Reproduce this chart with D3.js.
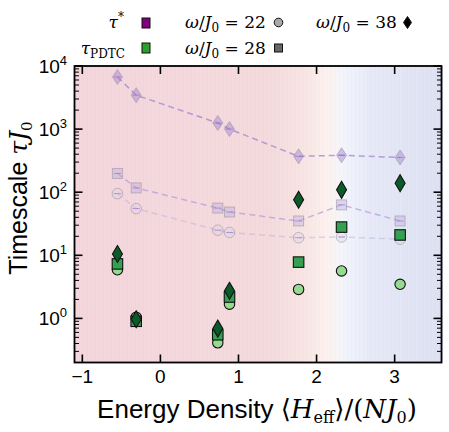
<!DOCTYPE html>
<html>
<head>
<meta charset="utf-8">
<script src="https://cdn.jsdelivr.net/npm/d3@7"></script>
<style>
  body { margin: 0; background: #fff; }
  svg text { font-family: "Liberation Sans", Arial, sans-serif; }
  .math { font-family: "DejaVu Serif", "Liberation Serif", serif; font-style: italic; }
</style>
</head>
<body>
<div id="chart"></div>
<script>
// Energy densities of the seven states
const energy = [-0.55, -0.31, 0.735, 0.885, 1.77, 2.32, 3.07];

// tau* (faded), one series per drive frequency
const tauStar22 = [95, 55, 25, 23, 19, 19.5, 18];
const tauStar28 = [198, 117, 56, 48.5, 35, 63, 35];
const tauStar38 = [6700, 3450, 1250, 1000, 370, 385, 355];

// tau_PDTC, one series per drive frequency
const tauPdtc22 = [5.9, 1.04, 0.41, 1.68, 2.88, 5.65, 3.47];
const tauPdtc28 = [7.3, 0.90, 0.55, 2.18, 7.8, 28, 21];
const tauPdtc38 = [10.5, 0.97, 0.69, 2.74, 76, 109, 139];

const xTicks = [-1, 0, 1, 2, 3];
const yTicks = [1, 10, 100, 1000, 10000];

const W = 449, H = 432;
const margin = {left: 74.5, right: 7.5, top: 66, bottom: 69.5};

const svg = d3.select("#chart").append("svg")
    .attr("width", W)
    .attr("height", H);

const x = d3.scaleLinear().domain([-1.1, 3.6]).range([margin.left, W - margin.right]);
const y = d3.scaleLog().domain([0.2, 1e4]).range([H - margin.bottom, margin.top]);

// background colour map along the energy axis
const bgColor = d3.scaleLinear()
    .domain([-1.1, 1.4, 1.85, 2.15, 2.35, 2.7, 3.6])
    .range(["#f5d4db", "#f6d8dc", "#f9e4e2", "#fdf2ee", "#f3f5fd", "#e5e8f8", "#dde0f3"]);

const bg = svg.append("g");
const step = 2;
for (let px = x(-1.1); px < x(3.6); px += step) {
    let c = d3.color(bgColor(x.invert(px + step / 2)));
    if (Math.round(px / step) % 2) c = c.darker(0.03);
    bg.append("rect")
        .attr("x", px)
        .attr("y", margin.top)
        .attr("width", step + 0.3)
        .attr("height", H - margin.bottom - margin.top)
        .attr("fill", c.formatHex());
}

// marker shapes
function diamond(g, cx, cy, w, h) {
    return g.append("path")
        .attr("d", "M" + cx + "," + (cy - h / 2) + "L" + (cx + w / 2) + "," + cy +
              "L" + cx + "," + (cy + h / 2) + "L" + (cx - w / 2) + "," + cy + "Z");
}
function square(g, cx, cy, s) {
    return g.append("rect").attr("x", cx - s / 2).attr("y", cy - s / 2).attr("width", s).attr("height", s);
}
function circle(g, cx, cy, r) {
    return g.append("circle").attr("cx", cx).attr("cy", cy).attr("r", r);
}

// faded tau* series
const faded = svg.append("g");
const fadedSeries = [
    {vals: tauStar22, shape: "c", fill: "#d9d2e6", fo: 0.35, line: "#c0b0dc", lo: 0.5},
    {vals: tauStar28, shape: "s", fill: "#b9a9d9", fo: 0.4, line: "#a88ed4", lo: 0.6},
    {vals: tauStar38, shape: "d", fill: "#9e7fd0", fo: 0.45, line: "#9b7ccf", lo: 0.7}
];
const lineGen = d3.line().x((d, i) => x(energy[i])).y(d => y(d));
fadedSeries.forEach(s => {
    faded.append("path")
        .attr("d", lineGen(s.vals))
        .attr("fill", "none")
        .attr("stroke", s.line)
        .attr("stroke-opacity", s.lo)
        .attr("stroke-width", 1.5)
        .attr("stroke-dasharray", "6,4");
});
fadedSeries.forEach(s => {
    s.vals.forEach((v, i) => {
        let cx = x(energy[i]), cy = y(v), m;
        if (s.shape === "c") m = circle(faded, cx, cy, 5.3);
        else if (s.shape === "s") m = square(faded, cx, cy, 10);
        else m = diamond(faded, cx, cy, 10, 15);
        m.attr("fill", s.fill).attr("fill-opacity", s.fo)
            .attr("stroke", "#8f8a9c").attr("stroke-opacity", 0.5).attr("stroke-width", 1);
        faded.append("line")
            .attr("x1", cx - 3.5).attr("x2", cx + 3.5)
            .attr("y1", cy).attr("y2", cy)
            .attr("stroke", "#8a6cc8").attr("stroke-opacity", 0.6).attr("stroke-width", 1);
    });
});

// tau_PDTC series
const pd = svg.append("g").attr("stroke", "#111").attr("stroke-width", 1.1);
tauPdtc22.forEach((v, i) => circle(pd, x(energy[i]), y(v), 5.2).attr("fill", "#98d991"));
tauPdtc28.forEach((v, i) => square(pd, x(energy[i]), y(v), 10.5).attr("fill", "#34a150"));
tauPdtc38.forEach((v, i) => diamond(pd, x(energy[i]), y(v), 10, 17).attr("fill", "#0b5a2a"));

// ticks (inward)
const axes = svg.append("g").attr("stroke", "#000");
xTicks.forEach(t => {
    axes.append("line").attr("x1", x(t)).attr("x2", x(t))
        .attr("y1", H - margin.bottom).attr("y2", H - margin.bottom - 8).attr("stroke-width", 1.6);
    axes.append("line").attr("x1", x(t)).attr("x2", x(t))
        .attr("y1", margin.top).attr("y2", margin.top + 8).attr("stroke-width", 1.6);
});
const minor = [];
for (let e = -1; e < 4; e++) {
    for (let k = 2; k < 10; k++) {
        let v = k * Math.pow(10, e);
        if (v >= 0.2 && v <= 1e4) minor.push(v);
    }
}
[margin.left, W - margin.right].forEach((xx, side) => {
    const dir = side === 0 ? 1 : -1;
    yTicks.forEach(t => {
        axes.append("line").attr("x1", xx).attr("x2", xx + dir * 8)
            .attr("y1", y(t)).attr("y2", y(t)).attr("stroke-width", 1.6);
    });
    minor.forEach(t => {
        axes.append("line").attr("x1", xx).attr("x2", xx + dir * 4.5)
            .attr("y1", y(t)).attr("y2", y(t)).attr("stroke-width", 1);
    });
});
svg.append("rect")
    .attr("x", margin.left).attr("y", margin.top)
    .attr("width", W - margin.right - margin.left)
    .attr("height", H - margin.bottom - margin.top)
    .attr("fill", "none").attr("stroke", "#000").attr("stroke-width", 1.8);

// tick labels
xTicks.forEach(t => {
    svg.append("text")
        .attr("x", x(t)).attr("y", H - margin.bottom + 20)
        .attr("text-anchor", "middle")
        .style("font-size", "19px")
        .text(t < 0 ? "\u2212" + Math.abs(t) : t);
});
yTicks.forEach(t => {
    const lab = svg.append("text")
        .attr("x", 67).attr("y", y(t) + 7)
        .attr("text-anchor", "end")
        .style("font-size", "19px");
    lab.append("tspan").text("10");
    lab.append("tspan").attr("dy", -8).style("font-size", "13px").text(Math.round(Math.log10(t)));
});

// axis titles
const yl = svg.append("text")
    .attr("transform", "translate(27,198) rotate(-90)")
    .attr("text-anchor", "middle")
    .style("font-size", "25px");
yl.append("tspan").text("Timescale ");
yl.append("tspan").attr("class", "math").text("\u03C4J");
yl.append("tspan").attr("class", "math").style("font-style", "normal").style("font-size", "15px").attr("dy", 5).text("0");

const xl = svg.append("text")
    .attr("x", 257).attr("y", 418)
    .attr("text-anchor", "middle")
    .style("font-size", "26px");
xl.append("tspan").text("Energy Density ");
xl.append("tspan").attr("class", "math").style("font-style", "normal").text("\u27E8");
xl.append("tspan").attr("class", "math").text("H");
xl.append("tspan").attr("class", "math").style("font-style", "normal").style("font-size", "16px").attr("dy", 5).text("eff");
xl.append("tspan").attr("class", "math").style("font-style", "normal").attr("dy", -5).text("\u27E9/(");
xl.append("tspan").attr("class", "math").text("NJ");
xl.append("tspan").attr("class", "math").style("font-style", "normal").style("font-size", "16px").attr("dy", 5).text("0");
xl.append("tspan").attr("class", "math").style("font-style", "normal").attr("dy", -5).text(")");

// legend
const leg = svg.append("g");
function mathLabel(xx, yy, anchor, parts) {
    const t = leg.append("text").attr("x", xx).attr("y", yy).attr("text-anchor", anchor)
        .attr("class", "math").style("font-size", "17px");
    parts.forEach(p => {
        const s = t.append("tspan").text(p[0]);
        if (p[1]) s.style("font-style", "normal");
        if (p[2]) s.style("font-size", p[2] + "px");
        if (p[3]) s.attr("dy", p[3]);
    });
}
mathLabel(124, 28, "end", [["\u03C4"], ["*", 1, 12, -7]]);
mathLabel(125, 54, "end", [["\u03C4"], ["PDTC", 1, 12, 4]]);
mathLabel(185, 28, "start", [["\u03C9"], ["/", 1], ["J"], ["0", 1, 12, 4], [" = 22", 1, 17, -4]]);
mathLabel(185, 54, "start", [["\u03C9"], ["/", 1], ["J"], ["0", 1, 12, 4], [" = 28", 1, 17, -4]]);
mathLabel(316, 28, "start", [["\u03C9"], ["/", 1], ["J"], ["0", 1, 12, 4], [" = 38", 1, 17, -4]]);

const lm = leg.append("g").attr("stroke", "#111").attr("stroke-width", 1);
lm.append("rect").attr("x", 142).attr("y", 18).attr("width", 8).attr("height", 10).attr("fill", "#800080");
lm.append("rect").attr("x", 142).attr("y", 43).attr("width", 8).attr("height", 10).attr("fill", "#2ca02c");
circle(lm, 278.5, 22.5, 4.3).attr("fill", "#a9a9a9");
lm.append("rect").attr("x", 274.5).attr("y", 44).attr("width", 8).attr("height", 8).attr("fill", "#666");
diamond(lm, 407.5, 22.5, 8, 12).attr("fill", "#000");
</script>
</body>
</html>
